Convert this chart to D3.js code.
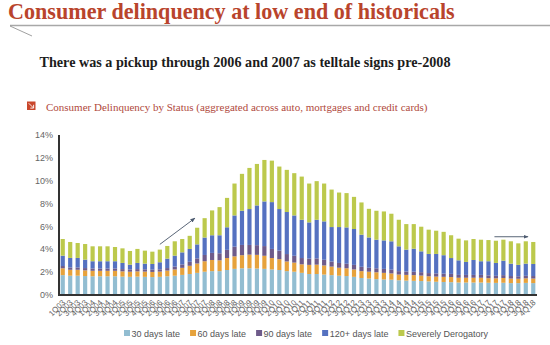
<!DOCTYPE html>
<html><head><meta charset="utf-8">
<script src="https://cdn.jsdelivr.net/npm/d3@7"></script>
<style>body{margin:0;background:#fff}svg{display:block}</style>
</head><body><svg id="c" width="550" height="345"></svg>
<script>
// ---------- data ----------
const quarters = ["1Q03","2Q03","3Q03","4Q03","1Q04","2Q04","3Q04","4Q04","1Q05","2Q05","3Q05","4Q05",
"1Q06","2Q06","3Q06","4Q06","1Q07","2Q07","3Q07","4Q07","1Q08","2Q08","3Q08","4Q08",
"1Q09","2Q09","3Q09","4Q09","1Q10","2Q10","3Q10","4Q10","1Q11","2Q11","3Q11","4Q11",
"1Q12","2Q12","3Q12","4Q12","1Q13","2Q13","3Q13","4Q13","1Q14","2Q14","3Q14","4Q14",
"1Q15","2Q15","3Q15","4Q15","1Q16","2Q16","3Q16","4Q16","1Q17","2Q17","3Q17","4Q17",
"1Q18","2Q18","3Q18","4Q18"];
const late30 = [1.7,1.65,1.65,1.62,1.6,1.6,1.6,1.6,1.57,1.55,1.57,1.55,1.53,1.55,
1.6,1.65,1.72,1.8,1.9,2.0,2.05,2.05,2.15,
2.25,2.3,2.3,2.28,2.25,2.2,2.15,2.05,2.0,1.9,
1.8,1.8,1.75,1.7,1.65,1.62,1.55,1.45,1.4,1.35,1.32,1.3,
1.25,1.22,1.2,1.18,1.15,1.12,1.1,1.08,1.05,
1.05,1.05,1.05,1.03,1.02,1.03,1.0,1.0,1.02,1.0];
const late60 = [0.6,0.52,0.52,0.5,0.48,0.48,0.48,0.48,0.46,0.45,0.46,0.46,0.45,0.46,
0.5,0.55,0.62,0.72,0.82,0.92,0.98,0.95,1.05,
1.1,1.15,1.2,1.2,1.15,1.0,0.95,0.85,0.8,0.75,
0.8,0.82,0.8,0.75,0.7,0.68,0.65,0.6,0.6,0.6,0.58,0.55,
0.5,0.5,0.5,0.48,0.45,0.45,0.45,0.45,0.42,
0.42,0.42,0.42,0.4,0.4,0.42,0.4,0.38,0.4,0.4];
const late90 = [0.2,0.2,0.2,0.2,0.2,0.2,0.2,0.2,0.2,0.2,0.2,0.2,0.2,0.2,
0.22,0.25,0.3,0.35,0.45,0.55,0.62,0.62,0.72,
0.85,0.9,0.85,0.85,0.85,0.8,0.75,0.65,0.6,0.55,
0.55,0.55,0.5,0.45,0.42,0.4,0.4,0.38,0.35,0.35,0.35,0.33,
0.3,0.3,0.3,0.3,0.28,0.28,0.28,0.28,0.25,
0.25,0.25,0.25,0.25,0.22,0.25,0.22,0.22,0.22,0.22];
const late120 = [0.91,0.84,0.84,0.74,0.64,0.64,0.64,0.64,0.54,0.42,0.54,0.5,0.5,0.62,
0.83,0.96,1.06,1.13,1.23,1.53,1.55,1.58,1.98,
2.74,3.0,3.15,3.49,3.92,4.11,3.65,3.69,3.54,3.36,
3.18,3.39,3.37,3.02,3.15,3.19,3.15,2.82,2.66,2.51,2.5,2.49,
2.18,1.92,2.02,1.83,1.68,1.71,1.62,1.39,1.28,
1.14,1.31,1.2,1.24,1.13,1.27,1.09,1.0,1.07,1.06];
const severe = [1.46,1.40,1.31,1.37,1.31,1.31,1.31,1.25,1.28,1.20,1.23,1.14,1.08,1.11,
1.11,1.26,1.17,1.15,1.46,1.7,2.18,2.47,2.58,
2.8,3.24,3.61,3.64,3.64,3.64,3.73,3.7,3.71,3.79,
3.41,3.39,3.32,3.29,3.03,3.01,2.82,2.83,2.51,2.54,2.54,2.42,
2.33,2.24,2.16,2.16,2.13,2.04,2.05,2.0,1.9,
1.89,1.84,1.89,1.86,1.95,1.84,1.96,1.89,1.96,1.93];
const seriesNames = ["30 days late","60 days late","90 days late","120+ days late","Severely Derogatory"];
const yTicks = [0,2,4,6,8,10,12,14];
// annotation arrows: [from quarter index, from %, to quarter index, to %]
const arrowStarts = [[13.0,4.4],[57.8,5.07]];
const arrowEnds = [[17.7,6.7],[62.3,5.07]];

// ---------- styles ----------
const colors = ["#92bdd1","#e6a23c","#6e5b8a","#5571c0","#bcc94c"];
const titleText = "Consumer delinquency at low end of historicals";
const subText = "There was a pickup through 2006 and 2007 as telltale signs pre-2008";
const chartTitle = "Consumer Delinquency by Status (aggregated across auto, mortgages and credit cards)";

const svg = d3.select("#c");
svg.append("rect").attr("width",550).attr("height",345).attr("fill","#fff");

function fitText(sel, target){
  const w = sel.node().getComputedTextLength();
  const fs = parseFloat(sel.attr("font-size"));
  sel.attr("font-size", (fs*target/w).toFixed(2));
}

const t = svg.append("text").attr("x",8).attr("y",19).attr("font-family","Liberation Serif, Times New Roman, serif")
  .attr("font-weight","bold").attr("font-size",23).attr("fill","#b9442c").text(titleText);
fitText(t, 447);
svg.append("line").attr("x1",10).attr("x2",550).attr("y1",25.5).attr("y2",25.5).attr("stroke","#a8a8a8").attr("stroke-width",1.5);
svg.append("line").attr("x1",10).attr("x2",32).attr("y1",26).attr("y2",36).attr("stroke","#888").attr("stroke-width",0.8);

const s = svg.append("text").attr("x",39.5).attr("y",66.5).attr("font-family","Liberation Serif, Times New Roman, serif")
  .attr("font-weight","bold").attr("font-size",15).attr("fill","#1c1c1c").text(subText);
fitText(s, 411);

// icon
svg.append("rect").attr("x",27).attr("y",101.5).attr("width",8.5).attr("height",8.5).attr("fill","#c9472c");
svg.append("path").attr("d","M28.8,103.3 L33.3,107.8 M33.6,104.8 L33.6,108.1 L30.3,108.1").attr("stroke","#fff").attr("stroke-width",0.9).attr("fill","none");
const ct = svg.append("text").attr("x",46).attr("y",110.5).attr("font-family","Liberation Serif, Times New Roman, serif")
  .attr("font-size",11.5).attr("fill","#b0493c").text(chartTitle);
fitText(ct, 382);

// ---------- chart ----------
const x = d3.scaleBand().domain(quarters).range([59,537]).paddingInner(0.44).paddingOuter(0.22);
const y = d3.scaleLinear().domain([0,14]).range([294.5,135]);

const table = quarters.map((q,i)=>({q, s0:late30[i], s1:late60[i], s2:late90[i], s3:late120[i], s4:severe[i]}));
const keys = ["s0","s1","s2","s3","s4"];
const stacked = d3.stack().keys(keys)(table);

svg.append("g").selectAll("g").data(stacked).join("g").attr("fill",(d,i)=>colors[i])
  .selectAll("rect").data(d=>d).join("rect")
  .attr("x",d=>x(d.data.q)).attr("width",x.bandwidth())
  .attr("y",d=>y(d[1])).attr("height",d=>y(d[0])-y(d[1]));

// y axis labels
const ya = svg.append("g").attr("transform","translate(59,0)")
  .call(d3.axisLeft(y).tickValues(yTicks).tickFormat(d=>d+"%").tickSize(0).tickPadding(6));
ya.select(".domain").remove();
ya.selectAll("text").attr("font-family","Liberation Sans, Arial, sans-serif").attr("font-size",9).attr("fill","#666");

// x axis labels
const xa = svg.append("g").attr("transform","translate(0,295)")
  .call(d3.axisBottom(x).tickSize(0).tickPadding(0));
xa.select(".domain").remove();
xa.selectAll("text").attr("font-family","Liberation Sans, Arial, sans-serif").attr("font-size",8).attr("fill","#666")
  .attr("text-anchor","end").attr("dy",0).attr("transform","translate(3,8) rotate(-45)");

// axis lines
svg.append("line").attr("x1",59).attr("x2",59).attr("y1",y(14)).attr("y2",y(0)+1).attr("stroke","#333").attr("stroke-width",2);
svg.append("line").attr("x1",58).attr("x2",537).attr("y1",y(0)+0.5).attr("y2",y(0)+0.5).attr("stroke","#333").attr("stroke-width",2);

// arrows
const defs = svg.append("defs");
defs.append("marker").attr("id","ah").attr("viewBox","0 0 10 10").attr("refX",9).attr("refY",5)
  .attr("markerWidth",5).attr("markerHeight",5).attr("orient","auto")
  .append("path").attr("d","M0,1 L10,5 L0,9 z").attr("fill","#4d5b70");
const xi = i => x.range()[0] + x.step()*x.paddingOuter() + x.step()*i + x.bandwidth()/2;
arrowStarts.forEach((a,k)=>{
  const b = arrowEnds[k];
  svg.append("line").attr("x1",xi(a[0])).attr("y1",y(a[1])).attr("x2",xi(b[0])).attr("y2",y(b[1]))
    .attr("stroke","#5a6678").attr("stroke-width",1).attr("marker-end","url(#ah)");
});

// legend
let lx = 124;
const lg = svg.append("g");
seriesNames.forEach((n,i)=>{
  lg.append("rect").attr("x",lx).attr("y",330).attr("width",6).attr("height",6).attr("fill",colors[i]);
  const tx = lg.append("text").attr("x",lx+7.5).attr("y",336.5).attr("font-family","Liberation Sans, Arial, sans-serif")
    .attr("font-size",9).attr("fill","#555").text(n);
  lx = lx + 7.5 + tx.node().getComputedTextLength() + 10;
});
</script></body></html>
